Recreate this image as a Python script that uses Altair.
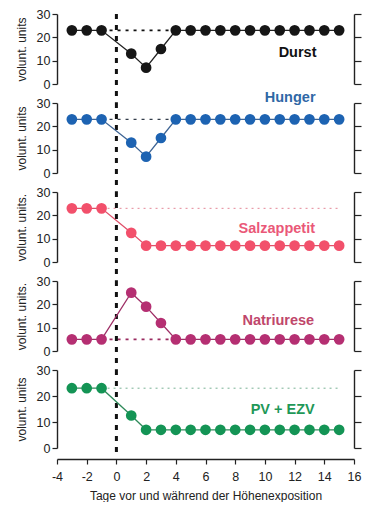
import altair as alt
import pandas as pd

# ---- data ----
days = [-3, -2, -1, 1, 2, 3, 4, 5, 6, 7, 8, 9, 10, 11, 12, 13, 14, 15]
durst = [23, 23, 23, 13, 7, 15, 23, 23, 23, 23, 23, 23, 23, 23, 23, 23, 23, 23]
hunger = [23, 23, 23, 13, 7, 15, 23, 23, 23, 23, 23, 23, 23, 23, 23, 23, 23, 23]
salzappetit = [23, 23, 23, 12.5, 7, 7, 7, 7, 7, 7, 7, 7, 7, 7, 7, 7, 7, 7]
natriurese = [5, 5, 5, 25, 19, 12, 5, 5, 5, 5, 5, 5, 5, 5, 5, 5, 5, 5]
pv_ezv = [23, 23, 23, 12.5, 7, 7, 7, 7, 7, 7, 7, 7, 7, 7, 7, 7, 7, 7]

names = ["Durst", "Hunger", "Salzappetit", "Natriurese", "PV + EZV"]
series = [durst, hunger, salzappetit, natriurese, pv_ezv]
ref_levels = [23, 23, 23, 5, 23]
ref_start = [-1, -1, -1, -1, -1]
ref_end = [4, 4, 15, 4, 15]
label_x = [12.2, 11.7, 10.8, 10.9, 11.2]
label_y = [13.3, 32, 14, 13, 14.6]
y_titles = ["volunt. units", "volunt. units", "volunt. units.", "volunt. units.", "volunt. units"]
x_ticks = [-4, -2, 0, 2, 4, 6, 8, 10, 12, 14, 16]
x_title = "Tage vor und während der Höhenexposition"

# ---- styles ----
point_colors = ["#161616", "#1d63b2", "#f2506b", "#b52f72", "#149455"]
line_colors = ["#222222", "#3e6494", "#e0506a", "#9e2f66", "#2f8a5a"]
text_colors = ["#111111", "#2f68a6", "#ea5878", "#bf476b", "#1f9858"]
ref_colors = ["#111111", "#333d4a", "#e07a8c", "#9a2b60", "#6aa888"]
ref_widths = [1.6, 1.4, 0.9, 1.6, 0.9]
ref_dash = [[3, 5], [3, 5], [2, 4], [3, 5], [2, 4]]
heights = [70, 70, 70, 70, 78]
vline_bottom = [-8, -8, -8, -8, -2.5]

FONT = "Liberation Sans"
xscale = alt.Scale(domain=[-4, 16], nice=False, zero=False)
yscale = alt.Scale(domain=[0, 30], nice=False)


def left_axis(title):
    return alt.Axis(values=[0, 10, 20, 30], title=title, titleFontSize=12,
                    titleFontWeight="normal", titleColor="#222", titlePadding=8,
                    labelFontSize=12.5, labelColor="#222", labelPadding=2,
                    tickSize=5, tickColor="#222", domainColor="#222",
                    domainWidth=1.4, tickWidth=1.2, grid=False, orient="left")


right_axis = alt.Axis(values=[0, 10, 20, 30], labels=False, title=None,
                      tickSize=7, tickColor="#222", domainColor="#222",
                      domainWidth=1.4, tickWidth=1.2, grid=False, orient="right")

bottom_axis = alt.Axis(values=x_ticks, title=x_title, titleFontSize=12,
                       titleFontWeight="normal", titleColor="#222", titlePadding=8,
                       labelFontSize=12.5, labelColor="#222", labelPadding=6,
                       labelExpr="toString(datum.value)",
                       tickSize=5, tickColor="#222", domainColor="#222",
                       domainWidth=1.4, tickWidth=1.2, grid=False, offset=11,
                       labelFlush=False, orient="bottom")

panels = []
for i in range(5):
    df = pd.DataFrame({"day": days, "v": series[i]})
    xaxis = bottom_axis if i == 4 else None

    ref = alt.Chart(pd.DataFrame({"x1": [ref_start[i]], "x2": [ref_end[i]],
                                  "y": [ref_levels[i]]})).mark_rule(
        color=ref_colors[i], strokeWidth=ref_widths[i], strokeDash=ref_dash[i]
    ).encode(x=alt.X("x1:Q", scale=xscale, axis=xaxis), x2="x2:Q",
             y=alt.Y("y:Q", scale=yscale, axis=right_axis))

    vline = alt.Chart(pd.DataFrame({"x": [0], "y1": [30], "y2": [vline_bottom[i]]})).mark_rule(
        color="#111", strokeWidth=3, strokeDash=[5, 6]
    ).encode(x=alt.X("x:Q", scale=xscale, axis=xaxis),
             y=alt.Y("y1:Q", scale=yscale, axis=None), y2="y2:Q")

    line = alt.Chart(df).mark_line(color=line_colors[i], strokeWidth=1.3).encode(
        x=alt.X("day:Q", scale=xscale, axis=xaxis),
        y=alt.Y("v:Q", scale=yscale, axis=None))

    pts = alt.Chart(df).mark_circle(size=115, opacity=1, color=point_colors[i]).encode(
        x=alt.X("day:Q", scale=xscale, axis=xaxis),
        y=alt.Y("v:Q", scale=yscale, axis=left_axis(y_titles[i])))

    txt = alt.Chart(pd.DataFrame({"x": [label_x[i]], "y": [label_y[i]], "t": [names[i]]})).mark_text(
        font=FONT, fontSize=14.5, fontWeight="bold", color=text_colors[i], align="center",
        baseline="middle"
    ).encode(x=alt.X("x:Q", scale=xscale, axis=xaxis),
             y=alt.Y("y:Q", scale=yscale, axis=None), text="t:N")

    layer = alt.layer(ref, vline, line, pts, txt).resolve_axis(y="independent").properties(
        width=297, height=heights[i])
    panels.append(layer)

chart = alt.vconcat(*panels, spacing=19).properties(
    bounds="flush",
    padding={"left": 7, "top": 0, "right": 3, "bottom": 0}
).configure(font=FONT).configure_view(stroke=None).configure_axis(
    labelFont=FONT, titleFont=FONT)

chart.save("out.html", embed_options={"renderer": "svg", "actions": False})
